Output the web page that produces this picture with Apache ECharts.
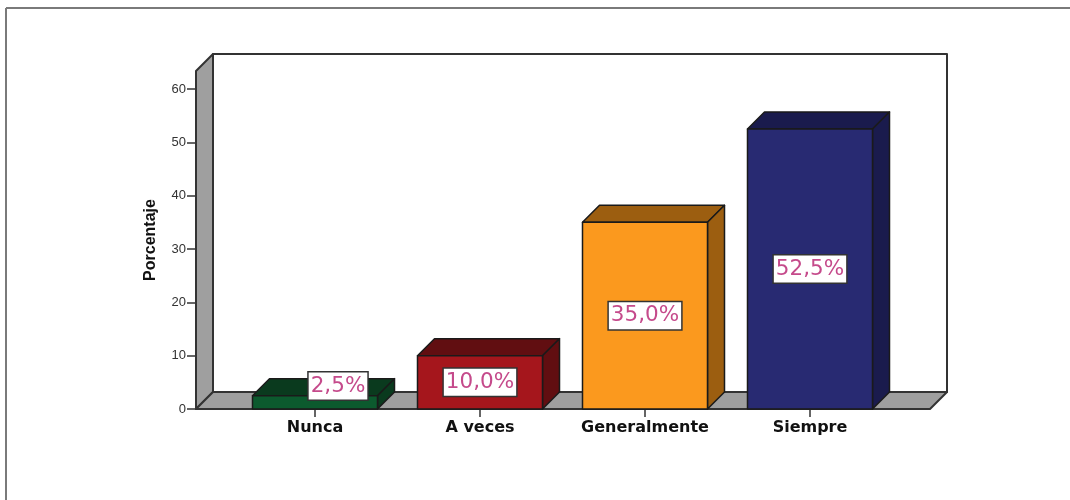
<!DOCTYPE html>
<html>
<head>
<meta charset="utf-8">
<style>html,body{margin:0;padding:0;background:#fff}#c{width:1070px;height:500px}</style>
<script src="https://cdn.jsdelivr.net/npm/echarts@6/dist/echarts.min.js"></script>
</head>
<body>
<div id="c"></div>
<script>
const categories = ['Nunca', 'A veces', 'Generalmente', 'Siempre'];
const percentages = [2.5, 10, 35, 52.5];
const valueLabels = ['2,5%', '10,0%', '35,0%', '52,5%'];
const frontColors = ['#0c5a2e', '#a5161c', '#fb991e', '#282a72'];
const sideColors = ['#0a3a1e', '#610e11', '#9c5e10', '#1a1b4d'];
const yTicks = [0, 10, 20, 30, 40, 50, 60];

const depth = 17, outline = '#1a1a1a', roomLine = '#333333';
const chart = echarts.init(document.getElementById('c'), null, {renderer: 'canvas'});

function poly(points, fill, lw, stroke) {
  return {type: 'polygon', shape: {points},
    style: {fill, stroke: stroke || outline, lineWidth: lw || 1.5, lineJoin: 'round'}};
}

function renderRoom(params, api) {
  const cs = params.coordSys;
  const L = cs.x - 36.5, R = cs.x + cs.width + 37.5;
  const T = cs.y, B = cs.y + cs.height;
  return {type: 'group', children: [
    poly([[L + depth, T - depth], [R + depth, T - depth], [R + depth, B - depth], [L + depth, B - depth]], '#ffffff', 2, roomLine),
    poly([[L, B], [L, T], [L + depth, T - depth], [L + depth, B - depth]], '#9f9f9f', 2, roomLine),
    poly([[L, B], [L + depth, B - depth], [R + depth, B - depth], [R, B]], '#9f9f9f', 2, roomLine)
  ]};
}

function renderBar(params, api) {
  const i = api.value(0);
  const top = api.coord([i, api.value(1)]);
  const base = api.coord([i, 0]);
  const w = api.size([1, 0])[0] * 0.7576;
  const x0 = top[0] - w / 2, x1 = top[0] + w / 2, y0 = top[1], y1 = base[1];
  return {type: 'group', children: [
    poly([[x0, y0], [x0 + depth, y0 - depth], [x1 + depth, y0 - depth], [x1, y0]], sideColors[i]),
    poly([[x1, y0], [x1 + depth, y0 - depth], [x1 + depth, y1 - depth], [x1, y1]], sideColors[i]),
    poly([[x0, y0], [x1, y0], [x1, y1], [x0, y1]], frontColors[i])
  ]};
}

function renderLabel(params, api) {
  const i = api.value(0);
  const top = api.coord([i, api.value(1)]);
  const base = api.coord([i, 0]);
  // A label that does not fit inside its bar is pushed up and to the right.
  const short = base[1] - top[1] < 30;
  const cx = top[0] + (short ? 23 : 0);
  const cy = short ? base[1] - 23 : (top[1] + base[1]) / 2;
  return {type: 'text', style: {
    text: valueLabels[i], x: cx, y: cy, align: 'center', verticalAlign: 'middle',
    fill: '#c54a8b', font: '21.5px "DejaVu Sans"',
    backgroundColor: '#ffffff', borderColor: '#333333', borderWidth: 1.5,
    padding: [3, 2, 2, 2]
  }};
}

const barData = categories.map((c, i) => [i, percentages[i]]);

chart.setOption({
  animation: false,
  backgroundColor: '#ffffff',
  grid: {left: 232.5, width: 660, top: 71, height: 338, containLabel: false},
  xAxis: {
    type: 'category', data: categories,
    axisLine: {show: false},
    axisTick: {show: true, alignWithLabel: true, length: 8, lineStyle: {color: '#333', width: 1.5}},
    axisLabel: {color: '#111', fontFamily: 'DejaVu Sans', fontWeight: 'bold', fontSize: 16, margin: 11, interval: 0, hideOverlap: false},
    splitLine: {show: false}
  },
  yAxis: {
    type: 'value', min: 0, max: 63.375, offset: 36.5,
    name: 'Porcentaje', nameLocation: 'middle', nameGap: 37,
    nameTextStyle: {fontFamily: 'Liberation Sans Narrow, Liberation Sans', fontWeight: 'bold', fontSize: 16, color: '#111'},
    axisLine: {show: false},
    axisTick: {show: true, length: 9, customValues: yTicks, lineStyle: {color: '#333', width: 1.5}},
    axisLabel: {color: '#333', fontFamily: 'Liberation Sans', fontSize: 13, margin: 10, padding: [2, 0, 0, 0], customValues: yTicks},
    splitLine: {show: false}
  },
  graphic: [
    {type: 'line', silent: true, shape: {x1: 6, y1: 8, x2: 1070, y2: 8}, style: {stroke: '#7a7a7a', lineWidth: 2}},
    {type: 'line', silent: true, shape: {x1: 6, y1: 8, x2: 6, y2: 500}, style: {stroke: '#7a7a7a', lineWidth: 2}}
  ],
  series: [
    {type: 'custom', name: 'room', z: 1, silent: true, renderItem: renderRoom, data: [[0, 0]], encode: {x: 0, y: 1}},
    {type: 'custom', name: 'Porcentaje', z: 2, silent: true, renderItem: renderBar, data: barData, encode: {x: 0, y: 1}},
    {type: 'custom', name: 'labels', z: 3, silent: true, renderItem: renderLabel, data: barData, encode: {x: 0, y: 1}}
  ]
});
</script>
</body>
</html>
